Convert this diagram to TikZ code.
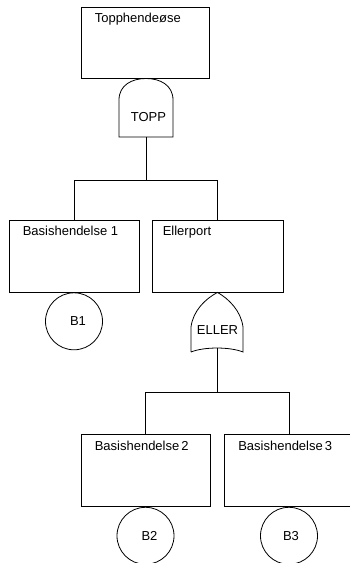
\documentclass[tikz,border=0pt]{standalone}
\usepackage{fontspec}
\setmainfont{Liberation Sans}
\usetikzlibrary{positioning}

\begin{document}
\begin{tikzpicture}[
  x=1pt, y=-1pt,
  evbox/.style={
    rectangle, draw, line width=0.8pt,
    minimum width=129pt, minimum height=72pt,
    inner sep=0pt
  },
  evtext/.style={anchor=base west, inner sep=0pt, font=\fontsize{13}{15}\selectfont},
  gatetext/.style={anchor=base, inner sep=0pt, font=\fontsize{13}{15}\selectfont},
  basicev/.style={
    circle, draw, line width=0.8pt,
    minimum size=57pt, inner sep=0pt
  },
  every label/.style={font=\fontsize{13}{15}\selectfont},
  conn/.style={draw, line width=0.8pt}
]
\useasboundingbox (0,0) rectangle (349,563);

% event boxes
\node[evbox, minimum width=128pt, minimum height=71pt] (top) at (145,42.5) {};
\node[evbox, minimum width=130pt] (b1)  at (74,256)    {};
\node[evbox, minimum width=131pt] (ell) at (217.5,256) {};
\node[evbox] (b2) at (145.5,470.5) {};
\node[evbox] (b3) at (289,470.5)   {};

\node[evtext] (ttop) at ([shift={(14,16)}]top.north west) {Topphendeøse};
\node[evtext] (tb1)  at ([shift={(14,16)}]b1.north west)  {Basishendelse 1};
\node[evtext] (tell) at ([shift={(11,16)}]ell.north west) {Ellerport};
\node[evtext] (tb2)  at ([shift={(14,16)}]b2.north west)  {Basishendelse\,2};
\node[evtext] (tb3)  at ([shift={(14,16)}]b3.north west)  {Basishendelse\,3};

% basic events
\node[basicev, below=0pt of b1, label={[xshift=4pt]center:B1}] (c1) {};
\node[basicev, below=0pt of b2, label={[xshift=4pt]center:B2}] (c2) {};
\node[basicev, below=0pt of b3, label={[xshift=2pt]center:B3}] (c3) {};

% AND gate
\coordinate (andout) at (146,137);
\coordinate (andbar) at (146,180);
\draw[line width=0.8pt] (119,137) -- (119,100)
  .. controls (119,85) and (132,78.5) .. (146,78.5)
  .. controls (160,78.5) and (173,85) .. (173,100) -- (173,137) -- cycle;
\node[gatetext] (andlbl) at (148.5,121) {TOPP};

% OR gate
\coordinate (orout) at (217,348);
\coordinate (orbar) at (217,392);
\draw[line width=0.8pt] (191,352) -- (191,327)
  .. controls (193,311) and (205,299) .. (ell.south)
  .. controls (229,299) and (241,311) .. (243,327) -- (243,352)
  .. controls (230,346.7) and (204,346.7) .. (191,352);
\node[gatetext] (orlbl) at (217.5,334) {ELLER};

% connectors
\draw[conn] (andout) -- (andbar) -| (b1);
\draw[conn] (andbar) -| (ell);
\draw[conn] (orout) -- (orbar) -| (b2);
\draw[conn] (orbar) -| (b3);
\end{tikzpicture}
\end{document}
